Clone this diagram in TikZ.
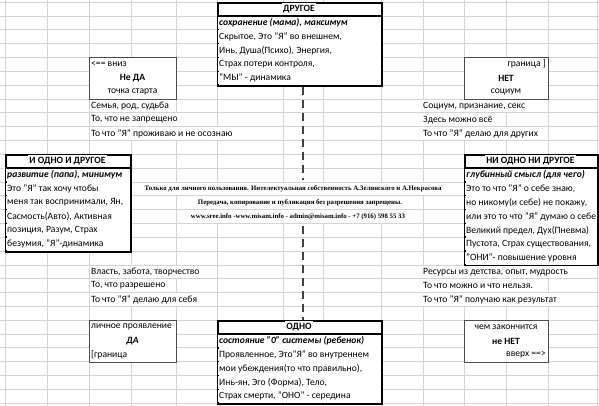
\documentclass[tikz,border=0pt]{standalone}
\usepackage{fontspec}
\setmainfont{Carlito}
\newfontfamily\wmfont{Liberation Serif}
\begin{document}
\begin{tikzpicture}[x=1pt,y=-1pt,
  gridline/.style={draw=black!17, line width=0.7pt},
  bigbox/.style={draw=black, line width=1.5pt, fill=white},
  smallbox/.style={draw=black!70, line width=0.9pt, fill=white},
  txt/.style={inner sep=1pt, fill=white, minimum height=12.4pt, font=\fontsize{9.6}{11}\selectfont},
  lt/.style={txt, anchor=west},
  rt/.style={txt, anchor=east},
  ct/.style={txt, anchor=center},
  hd/.style={ct, font=\fontsize{9.6}{11}\selectfont\bfseries},
  it/.style={lt, font=\fontsize{9.6}{11}\selectfont\bfseries\itshape},
  wm/.style={inner sep=1pt, fill=white, minimum height=12.4pt, font=\wmfont\fontsize{6.8}{8}\selectfont\bfseries},
  dashline/.style={draw=black!75, line width=1.4pt, dash pattern=on 8pt off 5pt}]
\useasboundingbox (0,0) rectangle (599,406);
\fill[white] (0,0) rectangle (599,406);
% grid
\foreach \k in {0,...,29} \draw[gridline] (0,{2.085+13.83*\k}) -- (599,{2.085+13.83*\k});
\foreach \x in {5,47,89,131,176,217,283,323,381,423,464,506,548,597} \draw[gridline] (\x,0) -- (\x,406);

% boxes
\node[bigbox, minimum width=164pt, minimum height=83pt, inner sep=0pt, anchor=north west] (top) at (217,2.1) {};
\draw[line width=1.5pt] (217,15.9) -- (381,15.9);
\node[bigbox, minimum width=125pt, minimum height=96.8pt, inner sep=0pt, anchor=north west] (left) at (5,154.2) {};
\draw[line width=1.5pt] (5,168.0) -- (130,168.0);
\node[bigbox, minimum width=133pt, minimum height=110.7pt, inner sep=0pt, anchor=north west] (right) at (464,154.2) {};
\draw[line width=1.5pt] (464,168.0) -- (597,168.0);
\node[bigbox, minimum width=164pt, minimum height=83pt, inner sep=0pt, anchor=north west] (odno) at (217,320.2) {};
\draw[line width=1.5pt] (217,334.0) -- (381,334.0);
\node[smallbox, minimum width=87pt, minimum height=41.5pt, inner sep=0pt, anchor=north west] (neda) at (89,57.4) {};
\node[smallbox, minimum width=84pt, minimum height=41.5pt, inner sep=0pt, anchor=north west] (net) at (464,57.4) {};
\node[smallbox, minimum width=87pt, minimum height=41.5pt, inner sep=0pt, anchor=north west] (da) at (89,320.2) {};
\node[smallbox, minimum width=84pt, minimum height=41.5pt, inner sep=0pt, anchor=north west] (nenet) at (464,320.2) {};

% top box text
\node[hd] (t0) at (299,9.0) {ДРУГОЕ};
\node[it] (t1) at (218,22.83) {сохранение (мама), максимум};
\node[lt] (t2) at (218,36.66) {Скрытое, Это "Я" во внешнем,};
\node[lt] (t3) at (218,50.49) {Инь, Душа(Психо), Энергия,};
\node[lt] (t4) at (218,64.32) {Страх потери контроля,};
\node[lt] (t5) at (218,78.15) {"МЫ" - динамика};

% Не ДА box
\node[lt] (n1) at (90,64.32) {<== вниз};
\node[hd] (n2) at (132.5,78.15) {Не ДА};
\node[ct] (n3) at (132.5,91.98) {точка старта};
% НЕТ box
\node[rt] (s1) at (547,64.32) {граница ]};
\node[hd] (s2) at (506,78.15) {НЕТ};
\node[ct] (s3) at (506,91.98) {социум};

% upper left/right texts
\node[lt] (ul1) at (90,105.81) {Семья, род, судьба};
\node[lt] (ul2) at (90,119.64) {То, что не запрещено};
\node[lt] (ul3) at (90,133.47) {То что "Я" проживаю и не осознаю};
\node[lt] (ur1) at (422,105.81) {Социум, признание, секс};
\node[lt] (ur2) at (422,119.64) {Здесь можно всё};
\node[lt] (ur3) at (422,133.47) {То что "Я" делаю для других};

% left big box
\node[hd] (l0) at (67.5,161.13) {И ОДНО И ДРУГОЕ};
\node[it] (l1) at (6,174.96) {развитие (папа), минимум};
\node[lt] (l2) at (6,188.79) {Это "Я" так хочу чтобы};
\node[lt] (l3) at (6,202.62) {меня так воспринимали, Ян,};
\node[lt] (l4) at (6,216.45) {Сасмость(Авто), Активная};
\node[lt] (l5) at (6,230.28) {позиция, Разум, Страх};
\node[lt] (l6) at (6,244.11) {безумия, "Я"-динамика};

% right big box
\node[hd] (r0) at (530.5,161.13) {НИ ОДНО НИ ДРУГОЕ};
\node[it] (r1) at (465,174.96) {глубинный смысл (для чего)};
\node[lt] (r2) at (465,188.79) {Это то что "Я" о себе знаю,};
\node[lt] (r3) at (465,202.62) {но никому(и себе) не покажу,};
\begin{scope}
\clip (464,150) rectangle (596.3,270);
\node[lt] (r4) at (465,216.45) {или это то что "Я" думаю о себе};
\end{scope}
\node[lt] (r5) at (465,230.28) {Великий предел, Дух(Пневма)};
\node[lt] (r6) at (465,244.11) {Пустота, Страх существования,};
\node[lt] (r7) at (465,257.94) {"ОНИ"- повышение уровня};

% watermark
\node[wm] (w1) at (293,188.79) {Только для личного пользования. Интелектуальная собственность А.Зелинского и А.Некрасова};
\node[wm] (w2) at (300,202.62) {Передача, копирование и публикация без разрешения запрещены.};
\node[wm] (w3) at (298,216.45) {www.sree.info -www.misam.info - admin@misam.info - +7 (916) 598 55 33};

% lower left/right texts
\node[lt] (ll1) at (90,271.77) {Власть, забота, творчество};
\node[lt] (ll2) at (90,285.60) {То, что разрешено};
\node[lt] (ll3) at (90,299.43) {То что "Я" делаю для себя};
\node[lt] (lr1) at (422,271.77) {Ресурсы из детства, опыт, мудрость};
\node[lt] (lr2) at (422,285.60) {То что можно и что нельзя.};
\node[lt] (lr3) at (422,299.43) {То что "Я" получаю как результат};

% ДА box
\node[lt] (d1) at (90,327.09) {личное проявление};
\node[hd, font=\fontsize{9.6}{11}\selectfont\bfseries\itshape] (d2) at (132.5,340.92) {ДА};
\node[lt] (d3) at (90,354.75) {[граница};
% не НЕТ box
\node[ct] (e1) at (506,327.09) {чем закончится};
\node[hd] (e2) at (506,340.92) {не НЕТ};
\node[rt] (e3) at (547,354.75) {вверх ==>};

% ОДНО box
\node[hd] (o0) at (299,327.09) {ОДНО};
\node[it] (o1) at (218,340.92) {состояние "0" системы (ребенок)};
\node[lt] (o2) at (218,354.75) {Проявленное, Это"Я" во внутреннем};
\node[lt] (o3) at (218,368.58) {мои убеждения(то что правильно),};
\node[lt] (o4) at (218,382.41) {Инь-ян, Эго (Форма), Тело,};
\node[lt] (o5) at (218,396.24) {Страх смерти, "ОНО" - середина};

% dashed connectors
\coordinate (dA) at (303,180);
\coordinate (dB) at (303,226);
\draw[dashline] (top.south -| dA) -- (dA);
\draw[dashline] (dB) -- (dB |- odno.north);
\end{tikzpicture}
\end{document}
